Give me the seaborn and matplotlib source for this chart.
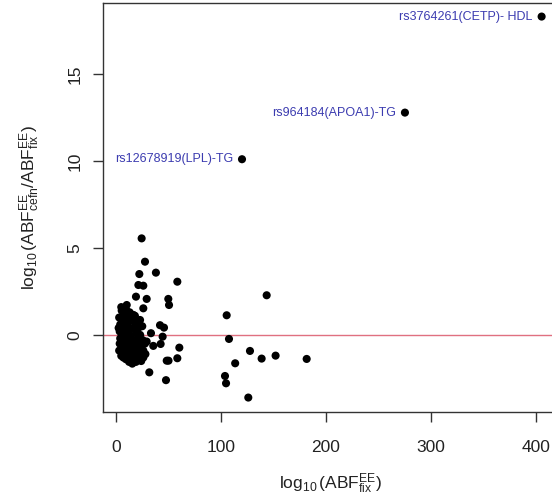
import matplotlib
matplotlib.use('Agg')
import matplotlib.pyplot as plt
import seaborn as sns
import pandas as pd
import numpy as np

# labelled SNPs
snp_labels = ['rs3764261(CETP)- HDL', 'rs964184(APOA1)-TG', 'rs12678919(LPL)-TG']
snp_x = [405.4, 275.2, 120.0]
snp_y = [18.3, 12.78, 10.1]

# scattered points outside the dense cluster
spread_x = [24.4, 27.6, 22.2, 38.0, 21.3, 26.0, 58.4, 19.0, 29.2, 49.8, 50.5, 26.0,
            10.2, 5.4, 16.5, 22.9, 41.9, 45.7, 33.3, 44.4, 29.2, 35.5, 42.5, 60.3,
            48.3, 50.0, 58.4, 31.7, 47.6,
            105.4, 107.6, 127.6, 113.5, 138.7, 152.0, 181.6, 143.5, 103.8, 104.8, 126.0]
spread_y = [5.55, 4.21, 3.5, 3.58, 2.87, 2.83, 3.06, 2.2, 2.07, 2.07, 1.72, 1.53,
            1.72, 1.4, 1.15, 0.86, 0.56, 0.42, 0.1, -0.1, -0.38, -0.63, -0.52, -0.73,
            -1.48, -1.48, -1.34, -2.15, -2.6,
            1.13, -0.23, -0.92, -1.63, -1.36, -1.19, -1.38, 2.28, -2.36, -2.78, -3.6]

# dense cluster near the origin
cluster_x = [3.0, 4.0, 3.5, 4.0, 3.5, 4.5, 5.0, 6.0, 6.5, 6.0, 7.0, 6.5, 7.0, 8.0, 8.5,
             9.0, 8.5, 9.0, 8.0, 9.5, 11.0, 10.5, 11.0, 11.5, 10.5, 12.0, 12.5, 13.0,
             13.5, 13.0, 14.0, 13.5, 14.0, 15.0, 15.5, 16.0, 16.5, 16.0, 17.0, 17.0,
             18.0, 18.5, 19.0, 18.5, 19.5, 19.0, 20.5, 21.0, 21.0, 21.5, 22.0, 23.0,
             23.5, 23.0, 24.0, 25.0, 25.5, 26.0, 26.0, 27.5, 28.0, 5.0, 10.0, 3.0, 2.5]
cluster_y = [1.0, 0.6, 0.2, -0.2, -0.5, -0.9, -1.2, 0.9, 0.4, 0.0, -0.4, -0.8, -1.3, 1.2, 0.7,
             0.2, -0.2, -0.6, -1.0, -1.4, 1.0, 0.5, 0.0, -0.4, -0.9, -1.2, -1.55, 1.3,
             0.8, 0.3, -0.1, -0.6, -1.0, -1.4, -1.65, 0.9, 0.4, -0.3, -0.8, -1.2,
             1.1, 0.6, 0.1, -0.4, -1.0, -1.55, 0.3, -0.2, -0.7, -1.3, 0.8, 0.0,
             -0.6, -1.1, -1.5, 0.5, -0.3, -0.9, -1.3, -0.5, -1.1, 1.6, 1.4, -0.9, 0.4]

x_ticks = [0, 100, 200, 300, 400]
y_ticks = [0, 5, 10, 15]

df = pd.DataFrame({'x': snp_x + spread_x + cluster_x,
                   'y': snp_y + spread_y + cluster_y})

sns.set_style('white')
plt.rcParams['font.family'] = ['Liberation Sans', 'DejaVu Sans']
plt.rcParams['mathtext.fontset'] = 'custom'
plt.rcParams['mathtext.rm'] = 'Liberation Sans'
plt.rcParams['mathtext.it'] = 'Liberation Sans'
plt.rcParams['mathtext.default'] = 'regular'

fig = plt.figure(figsize=(5.52, 5.04), dpi=100)
ax = fig.add_axes([103 / 552, 92 / 504, 455 / 552, 409 / 504])

ax.axhline(0, color='#e07080', lw=1.0, zorder=1)
sns.scatterplot(data=df, x='x', y='y', color='black', s=34, edgecolor='none',
                linewidth=0, ax=ax, zorder=3, legend=False)

for lab, xx, yy in zip(snp_labels, snp_x, snp_y):
    ax.annotate(lab, (xx, yy), xytext=(-6.5, 0), textcoords='offset points',
                ha='right', va='center', color='#3c3cb0', fontsize=9)

ax.set_xlim(-12.4, 421)
ax.set_ylim(-4.43, 19.08)
ax.set_xticks(x_ticks)
ax.set_yticks(y_ticks)

for sp in ax.spines.values():
    sp.set_color('#333333')
    sp.set_linewidth(1.0)

ax.tick_params(axis='both', direction='out', length=7, width=1, color='#333333',
               labelsize=12.5, labelcolor='#222222', bottom=True, left=True)
ax.tick_params(axis='x', pad=13)
ax.tick_params(axis='y', pad=8, labelrotation=90)
for lbl in ax.get_yticklabels():
    lbl.set_va('center')

ax.set_xlabel(r'$\log_{10}(ABF^{EE}_{fix})$', fontsize=12.5, labelpad=12, color='#222222')
ax.set_ylabel(r'$\log_{10}(ABF^{EE}_{cefn}/ABF^{EE}_{fix})$', fontsize=12.5,
              labelpad=18, color='#222222')

fig.savefig('out.png', dpi=100)
